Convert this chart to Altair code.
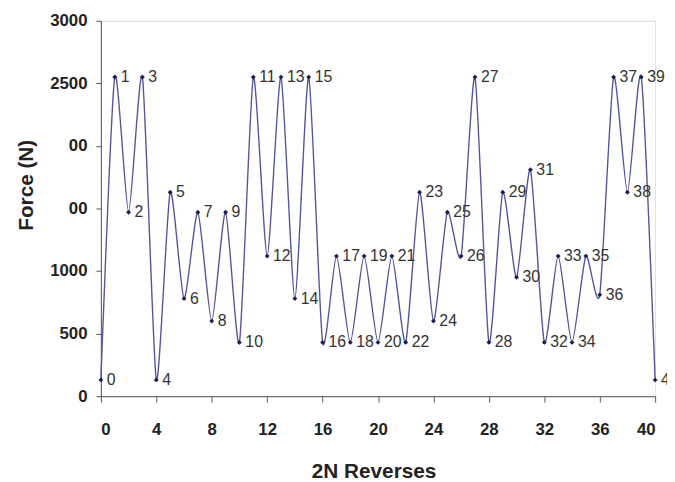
import altair as alt
import pandas as pd

reverses = list(range(0, 41))
force = [130, 2550, 1470, 2550, 130, 1630, 780, 1470, 600, 1470,
         430, 2550, 1120, 2550, 780, 2550, 430, 1120, 430, 1120,
         430, 1120, 430, 1630, 600, 1470, 1120, 2550, 430, 1630,
         950, 1810, 430, 1120, 430, 1120, 810, 2550, 1630, 2550,
         130]
point_labels = [str(i) for i in reverses]

df = pd.DataFrame({"x": reverses, "y": force, "label": point_labels})

xs = alt.Scale(domain=[0, 40], nice=False, zero=False)
ys = alt.Scale(domain=[0, 3000], nice=False)

FONT = "Liberation Sans"
x_axis = alt.Axis(values=list(range(0, 41, 4)), title="2N Reverses", grid=False, format="d",
                  labelFont=FONT, labelFontSize=17, labelFontWeight="bold", labelColor="#222",
                  titleFont=FONT, titleFontSize=21, titleFontWeight="bold",
                  titleColor="#222", titleY=76, titleBaseline="middle", titleX=276,
                  domainColor="#555", tickColor="#555", tickSize=6, labelPadding=20)
y_axis = alt.Axis(values=list(range(0, 3001, 500)), title="Force (N)", grid=False, format="d",
                  labelFont=FONT, labelFontSize=17, labelFontWeight="bold", labelColor="#222",
                  labelExpr="datum.value == 2000 || datum.value == 1500 ? '00' : datum.label",
                  titleFont=FONT, titleFontSize=21, titleFontWeight="bold",
                  titleColor="#222", titleX=-75, titleY=166, titleBaseline="middle",
                  domainColor="#555", tickColor="#555", tickSize=5, labelPadding=9)

base = alt.Chart(df)
line = base.mark_line(color="#55559a", strokeWidth=1.4, interpolate="cardinal", tension=0.35).encode(
    x=alt.X("x:Q", scale=xs, axis=x_axis),
    y=alt.Y("y:Q", scale=ys, axis=y_axis),
)
pts = base.mark_point(shape="diamond", filled=True, color="#1c1c4e", size=24, opacity=1).encode(
    x=alt.X("x:Q", scale=xs), y=alt.Y("y:Q", scale=ys))
txt = base.mark_text(align="left", baseline="middle", dx=6, font=FONT,
                     fontSize=16, color="#333").encode(
    x=alt.X("x:Q", scale=xs), y=alt.Y("y:Q", scale=ys), text="label:N")

chart = (line + pts + txt).properties(
    width=561, height=380,
    autosize=alt.AutoSizeParams(type="none"),
    padding={"left": 94, "top": 10, "right": 12, "bottom": 92},
).configure_view(stroke=None).configure(background="white")

chart.save("out.html", embed_options={"renderer": "svg", "actions": False})
